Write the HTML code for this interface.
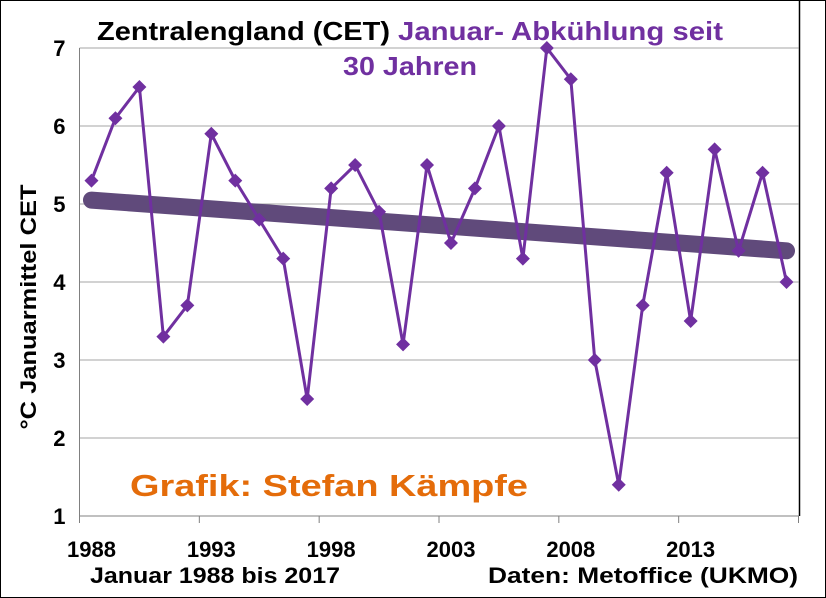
<!DOCTYPE html>
<html><head><meta charset="utf-8"><style>
body{margin:0;background:#fff;}
svg{display:block;font-family:"Liberation Sans",Arial,sans-serif;}
</style></head><body>
<svg id="c" width="826" height="598">
<rect x="0.5" y="0.5" width="825" height="597" fill="#fff" stroke="#000" stroke-width="1"/>
<g id="grid"></g>
<g id="axes"></g>
<g id="series"></g>
<text x="97" y="40" font-size="26" font-weight="bold" fill="#000" textLength="293" lengthAdjust="spacingAndGlyphs">Zentralengland (CET)</text>
<text x="398" y="40" font-size="26" font-weight="bold" fill="#7030a0" textLength="325" lengthAdjust="spacingAndGlyphs">Januar- Abkühlung seit</text>
<text x="343" y="75" font-size="26" font-weight="bold" fill="#7030a0" textLength="134" lengthAdjust="spacingAndGlyphs">30 Jahren</text>
<text x="130" y="496" font-size="31" font-weight="bold" fill="#e46c0a" textLength="398" lengthAdjust="spacingAndGlyphs">Grafik: Stefan Kämpfe</text>
<text x="36" y="307" font-size="22" font-weight="bold" fill="#000" text-anchor="middle" textLength="245" lengthAdjust="spacingAndGlyphs" transform="rotate(-90 36 307)">°C Januarmittel CET</text>
<text x="90" y="583" font-size="22" font-weight="bold" fill="#000" textLength="250" lengthAdjust="spacingAndGlyphs">Januar 1988 bis 2017</text>
<text x="488" y="583" font-size="22" font-weight="bold" fill="#000" textLength="310" lengthAdjust="spacingAndGlyphs">Daten: Metoffice (UKMO)</text>
</svg>
<script>
const years=[1988,1989,1990,1991,1992,1993,1994,1995,1996,1997,1998,1999,2000,2001,2002,2003,2004,2005,2006,2007,2008,2009,2010,2011,2012,2013,2014,2015,2016,2017];
const temps=[5.3,6.1,6.5,3.3,3.7,5.9,5.3,4.8,4.3,2.5,5.2,5.5,4.9,3.2,5.5,4.5,5.2,6.0,4.3,7.0,6.6,3.0,1.4,3.7,5.4,3.5,5.7,4.4,5.4,4.0];
const trendStart=5.05, trendEnd=4.4;
const yTicks=[1,2,3,4,5,6,7];
const xLabels=[1988,1993,1998,2003,2008,2013];
const NS="http://www.w3.org/2000/svg";
const L=79.5,R=798.5,T=48,B=516,ymin=1,ymax=7;
const cw=(R-L)/years.length;
const xs=i=>L+cw*(i+0.5);
const ys=v=>B-(v-ymin)/(ymax-ymin)*(B-T);
function mk(p,tag,a){const e=document.createElementNS(NS,tag);for(const k in a)e.setAttribute(k,a[k]);p.appendChild(e);return e;}
const grid=document.getElementById('grid'),axes=document.getElementById('axes'),ser=document.getElementById('series');
yTicks.forEach(v=>{
 if(v>ymin){const g=mk(grid,'line',{x1:L,x2:R,y1:ys(v),y2:ys(v),stroke:'#a6a6a6','stroke-width':1});
 
 }
 const t=mk(axes,'text',{x:L-14,y:ys(v)+8,'font-size':22,'font-weight':'bold','text-anchor':'end'});t.textContent=v;
 
 
});
const xa=mk(axes,'line',{x1:L,x2:R,y1:B,y2:B,stroke:'#808080'});


const ya=mk(axes,'line',{x1:L,x2:L,y1:T,y2:B,stroke:'#808080'});


const rb=mk(axes,'line',{x1:R+1,x2:R+1,y1:0,y2:B,stroke:'#000','stroke-width':1.5});


for(let i=0;i<=years.length;i+=5){const tk=mk(axes,'line',{x1:L+cw*i,x2:L+cw*i,y1:B,y2:B+7,stroke:'#808080'});
 
 }
xLabels.forEach(y=>{const i=years.indexOf(y);const t=mk(axes,'text',{x:xs(i),y:557,'font-size':22,'font-weight':'bold','text-anchor':'middle'});t.textContent=y;
 
 });
const tr=mk(ser,'line',{x1:xs(0),y1:ys(trendStart),x2:xs(years.length-1),y2:ys(trendEnd),stroke:'#604a7b','stroke-width':17,'stroke-linecap':'round'});


const pl=mk(ser,'polyline',{points:temps.map((v,i)=>xs(i)+','+ys(v)).join(' '),fill:'none',stroke:'#7030a0','stroke-width':3});


temps.forEach((v,i)=>{const x=xs(i),y=ys(v);const m=mk(ser,'polygon',{points:`${x},${y-7} ${x+7},${y} ${x},${y+7} ${x-7},${y}`,fill:'#7030a0'});
 
 });
</script>
</body></html>
